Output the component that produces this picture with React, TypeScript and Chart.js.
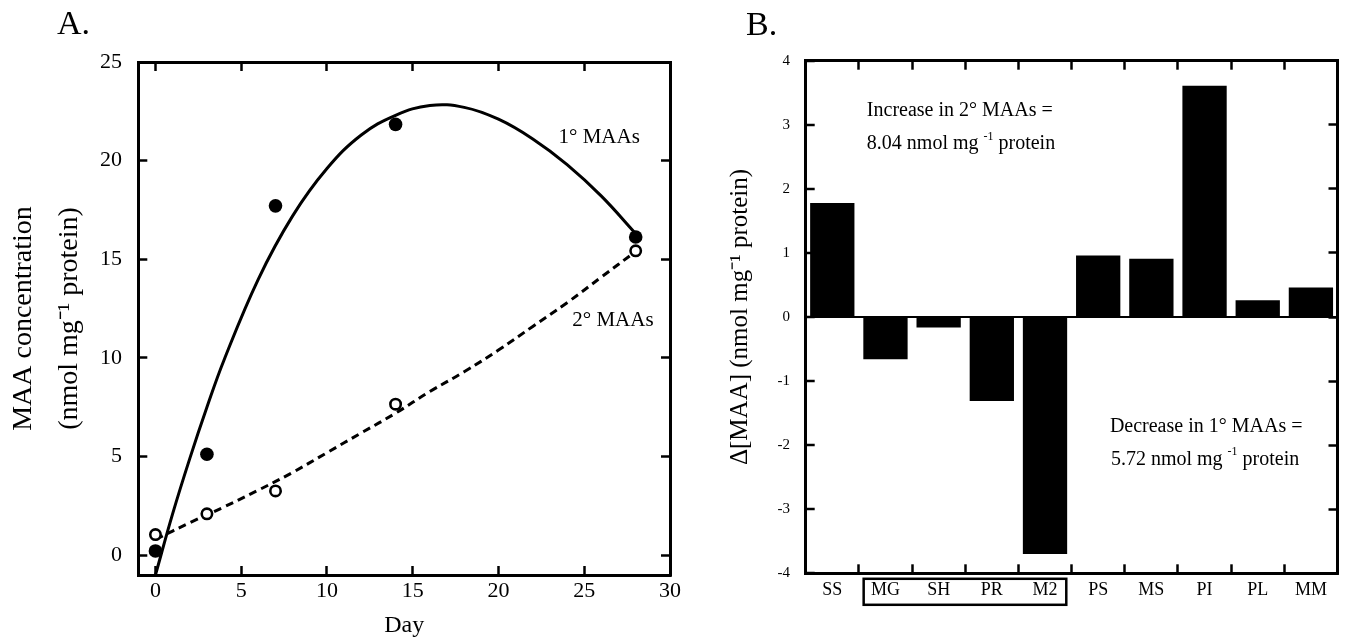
import React, { useEffect, useRef } from 'react';
import { Chart, registerables } from 'chart.js';

Chart.register(...registerables);

// ---------- Panel A data ----------
const sampleDays = [0, 3, 7, 14, 28];
const primaryMAAs = [0.22, 5.12, 17.71, 21.84, 16.13];
const secondaryMAAs = [1.05, 2.1, 3.26, 7.66, 15.43];
// fitted curves
const primaryFitDays = [0, 1, 2, 3, 4, 6, 8, 10, 12, 14, 16, 18, 20, 22, 24, 26, 28];
const primaryFitValues = [-1, 2.1, 4.9, 7.5, 9.9, 14.0, 17.2, 19.6, 21.3, 22.3, 22.8, 22.7, 22.1, 21.1, 19.8, 18.2, 16.3];
const secondaryFitDays = [0, 2, 4, 6, 8, 10, 12, 14, 16, 18, 20, 22, 24, 26, 28];
const secondaryFitValues = [0.8, 1.65, 2.45, 3.3, 4.2, 5.2, 6.2, 7.2, 8.3, 9.3, 10.4, 11.6, 12.8, 14.1, 15.4];

// ---------- Panel B data ----------
const species = ['SS', 'MG', 'SH', 'PR', 'M2', 'PS', 'MS', 'PI', 'PL', 'MM'];
const deltaMAA = [1.78, -0.66, -0.165, -1.31, -3.7, 0.96, 0.91, 3.61, 0.26, 0.46];
const boxedFrom = 'MG';
const boxedTo = 'M2';

const FONT = "'Liberation Serif', 'Times New Roman', Times, serif";
Chart.defaults.font.family = FONT;
Chart.defaults.color = '#000';

const border = { display: true, color: '#000', width: 3 };
const tickGrid = (len: number) => ({
  drawOnChartArea: false,
  drawTicks: true,
  tickLength: -len,
  tickWidth: 2.5,
  tickColor: '#000',
  color: '#000',
});

function drawSupText(ctx: CanvasRenderingContext2D, before: string, sup: string, after: string, x: number, y: number, size: number) {
  ctx.save();
  ctx.fillStyle = '#000';
  ctx.textBaseline = 'middle';
  ctx.textAlign = 'left';
  ctx.font = `${size}px ${FONT}`;
  ctx.fillText(before, x, y);
  let cx = x + ctx.measureText(before).width;
  ctx.font = `${Math.round(size * 0.62)}px ${FONT}`;
  ctx.fillText(sup, cx, y - size * 0.38);
  cx += ctx.measureText(sup).width;
  ctx.font = `${size}px ${FONT}`;
  ctx.fillText(after, cx, y);
  ctx.restore();
}

const annotA = {
  id: 'annotA',
  afterDraw(chart: any) {
    const { ctx } = chart;
    const xs = chart.scales.x;
    const ys = chart.scales.y;
    ctx.save();
    ctx.fillStyle = '#000';
    ctx.font = `34px ${FONT}`;
    ctx.textBaseline = 'alphabetic';
    ctx.textAlign = 'left';
    ctx.fillText('A.', 57, 34);
    ctx.font = `21px ${FONT}`;
    ctx.textBaseline = 'middle';
    ctx.fillText('1° MAAs', xs.getPixelForValue(23.5), ys.getPixelForValue(21.15));
    ctx.fillText('2° MAAs', xs.getPixelForValue(24.3), ys.getPixelForValue(11.92));
    ctx.restore();
  },
};

const annotB = {
  id: 'annotB',
  afterDraw(chart: any) {
    const { ctx, chartArea } = chart;
    const xs = chart.scales.x;
    const ys = chart.scales.y;
    ctx.save();
    ctx.fillStyle = '#000';
    ctx.font = `34px ${FONT}`;
    ctx.textBaseline = 'alphabetic';
    ctx.textAlign = 'left';
    ctx.fillText('B.', 46, 35);
    ctx.font = `20px ${FONT}`;
    ctx.textBaseline = 'middle';
    ctx.fillText('Increase in 2° MAAs =', xs.getPixelForValue(0.65), ys.getPixelForValue(3.22));
    drawSupText(ctx, '8.04 nmol mg ', '-1', ' protein', xs.getPixelForValue(0.65), ys.getPixelForValue(2.7), 20);
    ctx.fillText('Decrease in 1° MAAs =', xs.getPixelForValue(5.22), ys.getPixelForValue(-1.71));
    drawSupText(ctx, '5.72 nmol mg ', '-1', ' protein', xs.getPixelForValue(5.24), ys.getPixelForValue(-2.23), 20);
    // box around the grouped category labels
    const w = xs.getPixelForValue(1) - xs.getPixelForValue(0);
    const left = xs.getPixelForValue(species.indexOf(boxedFrom)) - 0.41 * w;
    const right = xs.getPixelForValue(species.indexOf(boxedTo)) + 0.4 * w;
    ctx.strokeStyle = '#000';
    ctx.lineWidth = 2.5;
    ctx.strokeRect(left, chartArea.bottom + 5.5, right - left, 26);
    ctx.restore();
  },
};

export default function App() {
  const refA = useRef<HTMLCanvasElement>(null);
  const refB = useRef<HTMLCanvasElement>(null);

  useEffect(() => {
    const chartA = new Chart(refA.current as HTMLCanvasElement, {
      type: 'line',
      data: {
        datasets: [
          {
            label: '1° MAAs',
            data: sampleDays.map((d, i) => ({ x: d, y: primaryMAAs[i] })),
            showLine: false,
            pointRadius: 6.8,
            pointBackgroundColor: '#000',
            pointBorderColor: '#000',
            pointBorderWidth: 0,
            order: 0,
          },
          {
            label: '2° MAAs',
            data: sampleDays.map((d, i) => ({ x: d, y: secondaryMAAs[i] })),
            showLine: false,
            pointRadius: 5.2,
            pointBackgroundColor: '#fff',
            pointBorderColor: '#000',
            pointBorderWidth: 2.6,
            order: 0,
          },
          {
            label: '1° fit',
            data: primaryFitDays.map((d, i) => ({ x: d, y: primaryFitValues[i] })),
            borderColor: '#000',
            borderWidth: 3,
            pointRadius: 0,
            tension: 0.4,
            order: 1,
          },
          {
            label: '2° fit',
            data: secondaryFitDays.map((d, i) => ({ x: d, y: secondaryFitValues[i] })),
            borderColor: '#000',
            borderWidth: 3,
            borderDash: [8, 5],
            pointRadius: 0,
            tension: 0.4,
            order: 1,
          },
        ],
      },
      options: {
        responsive: false,
        animation: false,
        devicePixelRatio: 1,
        layout: { padding: { left: 0, top: 62, right: 30, bottom: 0 } },
        plugins: { legend: { display: false }, tooltip: { enabled: false } },
        scales: {
          x: {
            type: 'linear',
            position: 'bottom',
            min: -1,
            max: 30,
            ticks: { stepSize: 5, includeBounds: false, font: { size: 22 }, color: '#000', padding: 12.5, maxRotation: 0 },
            grid: tickGrid(9),
            border,
            title: { display: true, text: 'Day', font: { size: 24 }, color: '#000', padding: { top: 0, bottom: 2.6 } },
            afterFit: (s: any) => { s.height = 68; },
          },
          x2: {
            type: 'linear',
            position: 'top',
            min: -1,
            max: 30,
            ticks: { display: false, stepSize: 5, includeBounds: false },
            grid: tickGrid(9),
            border,
            afterFit: (s: any) => { s.height = 0; },
          },
          y: {
            type: 'linear',
            position: 'left',
            min: -1,
            max: 25,
            ticks: { stepSize: 5, includeBounds: false, font: { size: 22 }, color: '#000', padding: 25.3 },
            grid: tickGrid(9),
            border,
            title: {
              display: true,
              text: ['MAA concentration', '(nmol mg\u207B\u00B9 protein)'],
              font: { size: 28, lineHeight: 1.64 },
              color: '#000',
              padding: { top: 1, bottom: 0 },
            },
            afterFit: (s: any) => { s.width = 138.3; },
          },
          y2: {
            type: 'linear',
            position: 'right',
            min: -1,
            max: 25,
            ticks: { display: false, stepSize: 5, includeBounds: false },
            grid: tickGrid(9),
            border,
            afterFit: (s: any) => { s.width = 0; },
          },
        },
      },
      plugins: [annotA],
    } as any);

    const chartB = new Chart(refB.current as HTMLCanvasElement, {
      type: 'bar',
      data: {
        labels: species,
        datasets: [
          {
            label: 'Δ[MAA]',
            data: deltaMAA,
            backgroundColor: '#000',
            borderWidth: 0,
            barPercentage: 0.833,
            categoryPercentage: 1,
          },
        ],
      },
      options: {
        responsive: false,
        animation: false,
        devicePixelRatio: 1,
        layout: { padding: { left: 0, top: 60.7, right: 7.5, bottom: 0 } },
        plugins: { legend: { display: false }, tooltip: { enabled: false } },
        scales: {
          x: {
            type: 'category',
            position: 'bottom',
            offset: true,
            ticks: { font: { size: 18 }, color: '#000', padding: 15.6, maxRotation: 0, autoSkip: false },
            grid: { ...tickGrid(9), offset: true },
            border,
            afterFit: (s: any) => { s.height = 69.7; },
          },
          x2: {
            type: 'category',
            position: 'top',
            offset: true,
            ticks: { display: false },
            grid: { ...tickGrid(9), offset: true },
            border,
            afterFit: (s: any) => { s.height = 0; },
          },
          y: {
            type: 'linear',
            position: 'left',
            min: -4,
            max: 4,
            ticks: { stepSize: 1, font: { size: 15 }, color: '#000', padding: 24.7 },
            grid: {
              drawOnChartArea: true,
              drawTicks: true,
              tickLength: -9,
              tickWidth: 2.5,
              tickColor: '#000',
              lineWidth: 2,
              color: (c: any) => (c.tick && c.tick.value === 0 ? '#000' : 'rgba(0,0,0,0)'),
            },
            border,
            title: {
              display: true,
              text: 'Δ[MAA] (nmol mg\u207B\u00B9 protein)',
              font: { size: 25 },
              color: '#000',
              padding: { top: 25, bottom: 0 },
            },
            afterFit: (s: any) => { s.width = 105.7; },
          },
          y2: {
            type: 'linear',
            position: 'right',
            min: -4,
            max: 4,
            ticks: { display: false, stepSize: 1 },
            grid: tickGrid(9),
            border,
            afterFit: (s: any) => { s.width = 0; },
          },
        },
      },
      plugins: [annotB],
    } as any);

    return () => {
      chartA.destroy();
      chartB.destroy();
    };
  }, []);

  return (
    <div style={{ position: 'absolute', left: 0, top: 0, width: 1345, height: 643, background: '#fff' }}>
      <canvas ref={refA} width={700} height={643} style={{ position: 'absolute', left: 0, top: 0, width: 700, height: 643 }} />
      <canvas ref={refB} width={645} height={643} style={{ position: 'absolute', left: 700, top: 0, width: 645, height: 643 }} />
    </div>
  );
}
